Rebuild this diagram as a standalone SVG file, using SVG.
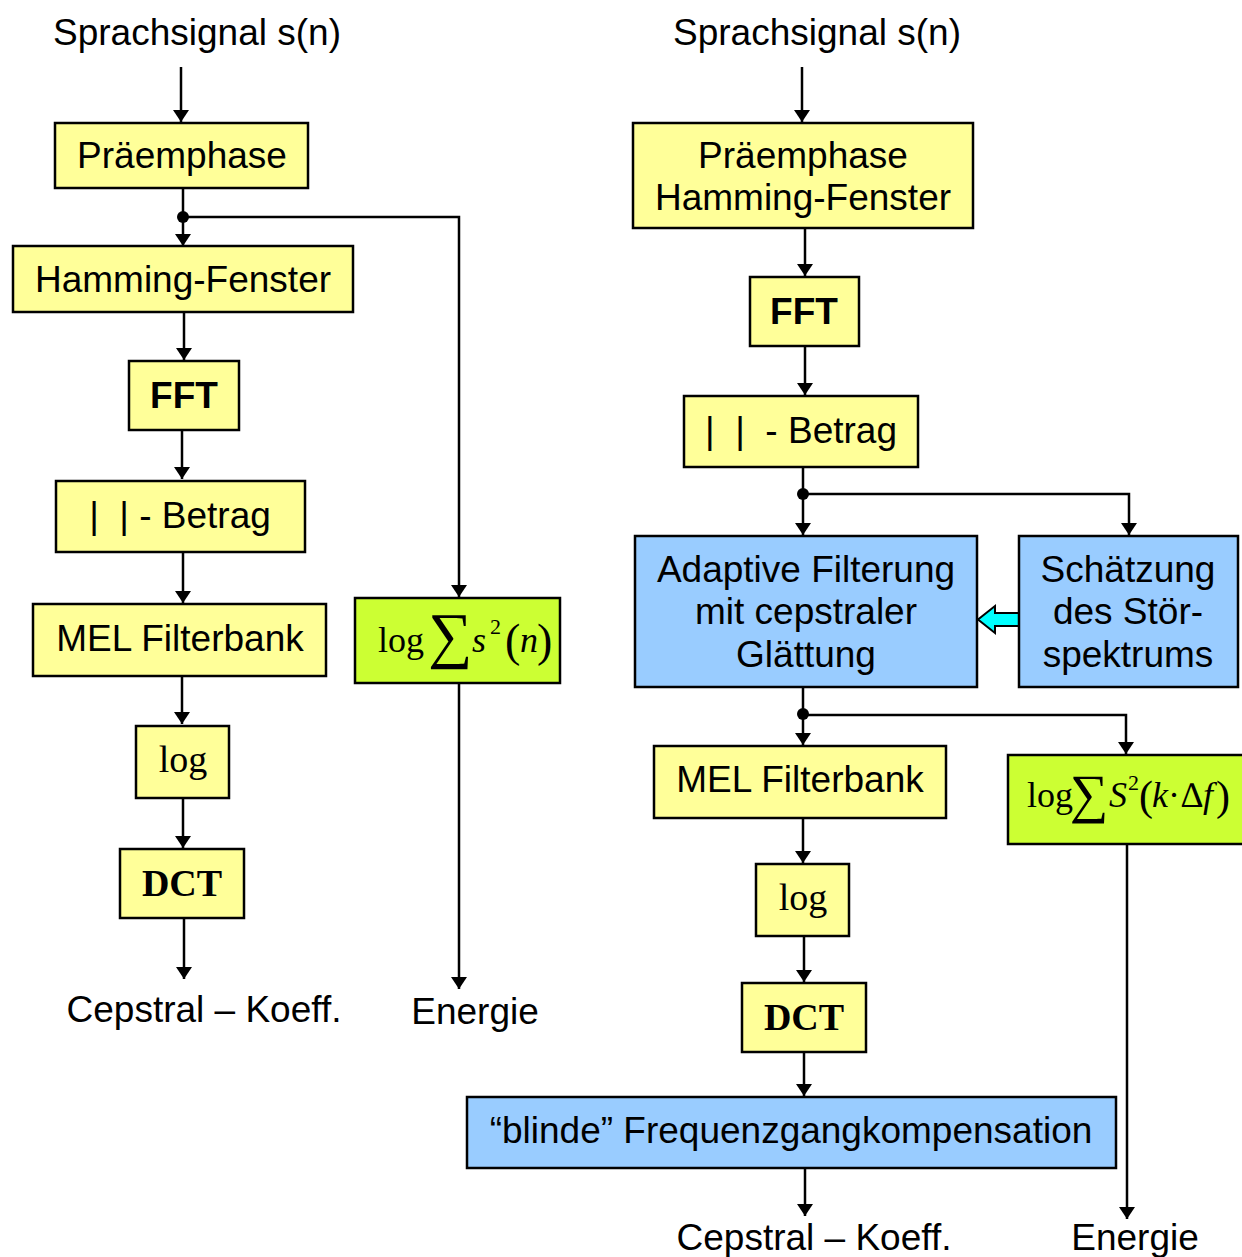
<svg xmlns="http://www.w3.org/2000/svg" width="1242" height="1257" viewBox="0 0 1242 1257">
<defs>
<marker id="ah" viewBox="0 0 12 16" refX="12" refY="8" markerWidth="12" markerHeight="16" markerUnits="userSpaceOnUse" orient="auto">
<path d="M0,0 L12,8 L0,16 Z" fill="#000"/>
</marker>
<style>
.y{fill:#ffff99;stroke:#000;stroke-width:2.5}
.b{fill:#99ccff;stroke:#000;stroke-width:2.5}
.g{fill:#ccff33;stroke:#000;stroke-width:2.5}
.t{font-family:"Liberation Sans",Arial,sans-serif;font-size:37px;fill:#000;text-anchor:middle}
.bd{font-weight:bold}
.s{font-family:"Liberation Serif","Times New Roman",serif;font-size:38px;fill:#000;text-anchor:middle}
.f{font-family:"Liberation Serif","Times New Roman","DejaVu Serif",serif;font-size:36px;fill:#000}
.i{font-style:italic}
.c line,.c polyline{stroke:#000;stroke-width:2.5;fill:none}
</style>
</defs>
<rect width="1242" height="1257" fill="#fff"/>

<g id="labels">
<text class="t" x="197" y="45">Sprachsignal s(n)</text>
<text class="t" x="817" y="45">Sprachsignal s(n)</text>
<text class="t" x="204" y="1022">Cepstral – Koeff.</text>
<text class="t" x="475" y="1024">Energie</text>
<text class="t" x="814" y="1250">Cepstral – Koeff.</text>
<text class="t" x="1135" y="1250">Energie</text>
</g>

<g class="c" id="connectors">
<line x1="181" y1="67" x2="181" y2="122" marker-end="url(#ah)"/>
<line x1="183" y1="188" x2="183" y2="246" marker-end="url(#ah)"/>
<polyline points="183,217 459,217 459,597" marker-end="url(#ah)"/>
<line x1="184" y1="312" x2="184" y2="360" marker-end="url(#ah)"/>
<line x1="182" y1="430" x2="182" y2="479" marker-end="url(#ah)"/>
<line x1="183" y1="552" x2="183" y2="603" marker-end="url(#ah)"/>
<line x1="182" y1="676" x2="182" y2="724" marker-end="url(#ah)"/>
<line x1="183" y1="798" x2="183" y2="848" marker-end="url(#ah)"/>
<line x1="184" y1="918" x2="184" y2="979" marker-end="url(#ah)"/>
<line x1="459" y1="683" x2="459" y2="989" marker-end="url(#ah)"/>
<circle cx="183" cy="217" r="6" fill="#000"/>

<line x1="802" y1="67" x2="802" y2="122" marker-end="url(#ah)"/>
<line x1="805" y1="228" x2="805" y2="276" marker-end="url(#ah)"/>
<line x1="805" y1="346" x2="805" y2="395" marker-end="url(#ah)"/>
<line x1="803" y1="467" x2="803" y2="535" marker-end="url(#ah)"/>
<polyline points="803,494 1129,494 1129,535" marker-end="url(#ah)"/>
<circle cx="803" cy="494" r="6" fill="#000"/>
<line x1="803" y1="687" x2="803" y2="745" marker-end="url(#ah)"/>
<polyline points="803,715 1126,715 1126,754" marker-end="url(#ah)"/>
<circle cx="803" cy="714" r="6" fill="#000"/>
<line x1="803" y1="818" x2="803" y2="863" marker-end="url(#ah)"/>
<line x1="804" y1="936" x2="804" y2="982" marker-end="url(#ah)"/>
<line x1="804" y1="1052" x2="804" y2="1096" marker-end="url(#ah)"/>
<line x1="805" y1="1168" x2="805" y2="1216" marker-end="url(#ah)"/>
<line x1="1127" y1="844" x2="1127" y2="1219" marker-end="url(#ah)"/>
<path d="M1019,613 L995,613 L995,606 L978,619.5 L995,633 L995,626 L1019,626 Z" fill="#00ffff" stroke="#000" stroke-width="2"/>
</g>

<g id="n-praemphase-l"><rect class="y" x="55" y="123" width="253" height="65"/><text class="t" x="182" y="168">Präemphase</text></g>
<g id="n-hamming-l"><rect class="y" x="13" y="246" width="340" height="66"/><text class="t" x="183" y="292">Hamming-Fenster</text></g>
<g id="n-fft-l"><rect class="y" x="129" y="361" width="110" height="69"/><text class="t bd" x="184" y="408">FFT</text></g>
<g id="n-betrag-l"><rect class="y" x="56" y="481" width="249" height="71"/><text class="t" x="180" y="528" xml:space="preserve">|  | - Betrag</text></g>
<g id="n-mel-l"><rect class="y" x="33" y="604" width="293" height="72"/><text class="t" x="180" y="651">MEL Filterbank</text></g>
<g id="n-log-l"><rect class="y" x="136" y="726" width="93" height="72"/><text class="s" x="183" y="772">log</text></g>
<g id="n-dct-l"><rect class="y" x="120" y="849" width="124" height="69"/><text class="s bd" x="182" y="896">DCT</text></g>
<g id="n-energy-l"><rect class="g" x="355" y="598" width="205" height="85"/>
<text class="f" y="652"><tspan x="378">log</tspan><tspan x="428" y="656" font-size="62">∑</tspan><tspan class="i" x="472" y="652">s</tspan><tspan x="490" y="634" font-size="22">2</tspan><tspan x="505" y="656" font-size="46">(</tspan><tspan class="i" x="520" y="652">n</tspan><tspan x="537" y="656" font-size="46">)</tspan></text></g>

<g id="n-praemphase-r"><rect class="y" x="633" y="123" width="340" height="105"/><text class="t" x="803" y="168">Präemphase</text><text class="t" x="803" y="210">Hamming-Fenster</text></g>
<g id="n-fft-r"><rect class="y" x="750" y="277" width="109" height="69"/><text class="t bd" x="804" y="324">FFT</text></g>
<g id="n-betrag-r"><rect class="y" x="684" y="396" width="234" height="71"/><text class="t" x="801" y="443" xml:space="preserve">|  |  - Betrag</text></g>
<g id="n-adaptive"><rect class="b" x="635" y="536" width="342" height="151"/><text class="t" x="806" y="582">Adaptive Filterung</text><text class="t" x="806" y="624">mit cepstraler</text><text class="t" x="806" y="667">Glättung</text></g>
<g id="n-schaetzung"><rect class="b" x="1019" y="536" width="219" height="151"/><text class="t" x="1128" y="582">Schätzung</text><text class="t" x="1128" y="624">des Stör-</text><text class="t" x="1128" y="667">spektrums</text></g>
<g id="n-mel-r"><rect class="y" x="654" y="746" width="292" height="72"/><text class="t" x="800" y="792">MEL Filterbank</text></g>
<g id="n-energy-r"><rect class="g" x="1008" y="755" width="236" height="89"/>
<text class="f" y="807"><tspan x="1027">log</tspan><tspan x="1070" y="812" font-size="54">∑</tspan><tspan class="i" x="1109" y="807">S</tspan><tspan x="1128" y="790" font-size="22">2</tspan><tspan x="1139" y="810" font-size="42">(</tspan><tspan class="i" x="1152" y="807">k</tspan><tspan x="1168" y="807">·</tspan><tspan x="1181" y="807">∆</tspan><tspan class="i" x="1203" y="807">f</tspan><tspan x="1216" y="810" font-size="42">)</tspan></text></g>
<g id="n-log-r"><rect class="y" x="756" y="864" width="93" height="72"/><text class="s" x="803" y="910">log</text></g>
<g id="n-dct-r"><rect class="y" x="742" y="983" width="124" height="69"/><text class="s bd" x="804" y="1030">DCT</text></g>
<g id="n-blinde"><rect class="b" x="467" y="1097" width="649" height="71"/><text class="t" x="791" y="1143">“blinde” Frequenzgangkompensation</text></g>
</svg>
